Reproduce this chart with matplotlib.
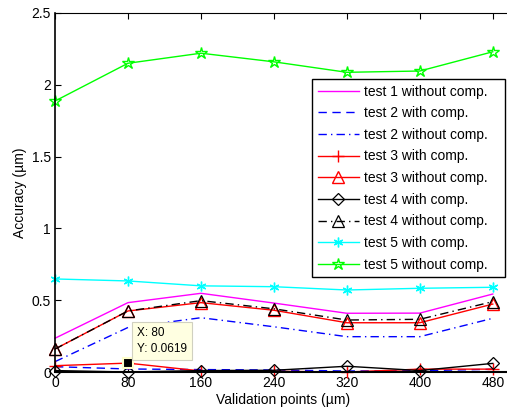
import matplotlib
matplotlib.use("Agg")
import matplotlib.pyplot as plt

plt.rcParams['font.family'] = ['Liberation Sans', 'DejaVu Sans']

x = [0, 80, 160, 240, 320, 400, 480]
test1_without = [0.235, 0.483, 0.548, 0.48, 0.409, 0.41, 0.543]
test2_with = [0.037, 0.021, 0.017, 0.014, 0.007, 0.009, 0.019]
test2_without = [0.072, 0.31, 0.378, 0.315, 0.246, 0.246, 0.374]
test3_with = [0.044, 0.0619, 0.007, 0.005, 0.0, 0.02, 0.02]
test3_without = [0.16, 0.425, 0.483, 0.43, 0.343, 0.343, 0.473]
test4_with = [0.01, 0.0, 0.01, 0.012, 0.04, 0.01, 0.06]
test4_without = [0.16, 0.425, 0.497, 0.44, 0.362, 0.367, 0.49]
test5_with = [0.648, 0.634, 0.60, 0.594, 0.571, 0.583, 0.59]
test5_without = [1.887, 2.15, 2.22, 2.16, 2.087, 2.096, 2.23]

labels = ['test 1 without comp.', 'test 2 with comp.', 'test 2 without comp.',
          'test 3 with comp.', 'test 3 without comp.', 'test 4 with comp.',
          'test 4 without comp.', 'test 5 with comp.', 'test 5 without comp.']
xticks = [0, 80, 160, 240, 320, 400, 480]
yticks = [0, 0.5, 1, 1.5, 2, 2.5]
ytick_labels = ['0', '0.5', '1', '1.5', '2', '2.5']

fig = plt.figure(figsize=(5.07, 4.11), dpi=100)
ax = fig.add_axes([55/507, 39/411, 456/507, 359/411])

lw = 1.0
ax.plot(x, test1_without, color='#ff00ff', lw=lw, label=labels[0], clip_on=False)
ax.plot(x, test2_with, color='blue', lw=lw, ls=(0, (6, 4)), label=labels[1], clip_on=False)
ax.plot(x, test2_without, color='blue', lw=lw, ls=(0, (6, 3, 1, 3)), label=labels[2], clip_on=False)
ax.plot(x, test3_with, color='red', lw=lw, marker='+', ms=8, mew=1, label=labels[3], clip_on=False)
ax.plot(x, test3_without, color='red', lw=lw, marker='^', ms=8, mfc='none', mec='red', mew=1, label=labels[4], clip_on=False)
ax.plot(x, test4_with, color='black', lw=lw, marker='D', ms=6.5, mfc='none', mec='black', mew=0.9, label=labels[5], clip_on=False)
ax.plot(x, test4_without, color='black', lw=lw, ls=(0, (6, 3, 1, 3)), marker='^', ms=8, mfc='none', mec='black', mew=0.9, label=labels[6], clip_on=False)
ax.plot(x, test5_with, color='cyan', lw=lw, marker=(6, 2, 0), ms=7, mew=1, label=labels[7], clip_on=False)
ax.plot(x, test5_without, color='#00ff00', lw=lw, marker='*', ms=9, mfc='none', mec='#00ff00', mew=1, label=labels[8], clip_on=False)

# data tip marker
ax.plot([x[1]], [test3_with[1]], marker='s', ms=7, color='black', mec='#ffffcc', mew=1.5, ls='none', clip_on=False, zorder=5)
ax.annotate('X: 80\nY: 0.0619', xy=(x[1], test3_with[1]), xytext=(9, 8), textcoords='offset pixels',
            ha='left', va='bottom', fontsize=8.5, linespacing=1.45,
            bbox=dict(boxstyle='square,pad=0.4', fc='#ffffe1', ec='#d0d0c0', lw=0.8), zorder=6)

ax.set_xlim(0, 500)
ax.set_ylim(0, 2.5)
ax.set_xticks(xticks)
ax.set_xticklabels([str(v) for v in xticks])
ax.set_yticks(yticks)
ax.set_yticklabels(ytick_labels)
ax.tick_params(direction='in', length=4, width=0.8, labelsize=10, top=True, right=False, pad=3)
for s in ['top', 'right']:
    ax.spines[s].set_linewidth(0.8)
ax.spines['bottom'].set_linewidth(1.5)
ax.spines['left'].set_linewidth(1.2)

ax.set_xlabel('Validation points (\u00b5m)', fontsize=10, labelpad=2)
ax.set_ylabel('Accuracy (\u00b5m)', fontsize=10, labelpad=3)

leg = ax.legend(loc='upper left', bbox_to_anchor=(257/456, 0, 193/456, 293/359), mode='expand',
                fontsize=10, frameon=True, fancybox=False, edgecolor='black', framealpha=1,
                handlelength=3.0, handletextpad=0.35, labelspacing=0.55, borderpad=0.4,
                borderaxespad=0)
leg.get_frame().set_linewidth(1.0)

fig.savefig('out.png', dpi=100)
